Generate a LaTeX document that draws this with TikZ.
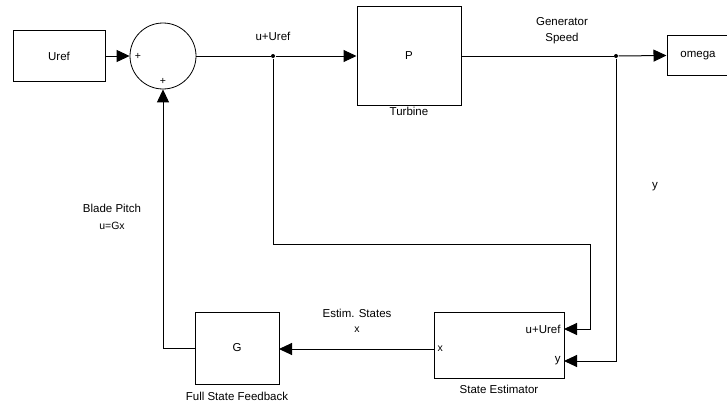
\documentclass[tikz,border=0pt]{standalone}
\usepackage{fontspec}
\setmainfont{Liberation Sans}
\usetikzlibrary{arrows.meta,calc}
\begin{document}
\begin{tikzpicture}[x=1pt,y=-1pt,
  line width=1pt,
  every node/.style={font=\fontsize{11.5}{13}\selectfont},
  blk/.style={draw,rectangle,inner sep=0pt,line width=1pt},
  arr/.style={-{Triangle[length=13pt,width=12pt]}},
  lbl/.style={inner sep=0pt,anchor=center},
  jdot/.style={circle,fill,inner sep=0pt,minimum size=4pt}]
\clip (0,0) rectangle (727,404);
\fill[white] (0,0) rectangle (727,404);
% blocks
\node[blk,minimum width=92pt,minimum height=50pt] (uref) at (59,56) {Uref};
\node[draw,circle,inner sep=0pt,minimum size=66pt,line width=0.8pt] (sum) at (163,56) {};
\node[blk,minimum width=104pt,minimum height=98pt] (P) at (409,56) {P};
\node[blk,minimum width=70pt,minimum height=39pt] (omega) at (702,55.5) {};
\node[lbl] (omegat) at (698,56) {omega};
\node[blk,minimum width=130pt,minimum height=66pt] (est) at (499,345) {};
\node[blk,minimum width=84pt,minimum height=72pt] (G) at (237,348) {G};
% junctions and ports
\node[jdot] (j1) at (273,56) {};
\node[jdot] (j2) at (616,56) {};
\coordinate (estu) at (564,329);
\coordinate (esty) at (564,361);
\coordinate (estx) at (434,349);
\coordinate (Gin) at (279,349);
% connectors
\draw[arr] (uref.east) -- (sum.west);
\draw (sum.east) -- (j1);
\draw[arr] (j1) -- (P.west);
\draw (P.east) -- (j2);
\draw[arr] (j2) -- (omega.west);
\draw[arr] (j1) -- (273,244) -- (590,244) -- (590,329) -- (estu);
\draw[arr] (j2) -- (616,361) -- (esty);
\draw[arr] (estx) -- (Gin);
\draw[arr] (G.west) -| (sum.south);
% labels
\node[lbl] (plus1) at (138,56) {\fontsize{10.5}{11}\selectfont +};
\node[lbl] (plus2) at (163,81) {\fontsize{10.5}{11}\selectfont +};
\node[lbl] (lu) at (273,36) {u+Uref};
\node[lbl] (lgen) at (562,22) {Generator};
\node[lbl] (lspd) at (562,39) {Speed};
\node[lbl] (ltur) at (409,111) {Turbine};
\node[lbl] (ly) at (655,187) {y};
\node[lbl] (lest) at (499,389) {State Estimator};
\node[lbl] (lfsf) at (237,396) {Full State Feedback};
\node[lbl] (les) at (357,313) {Estim. States};
\node[lbl] (lx) at (357,330) {\fontsize{10.5}{11}\selectfont x};
\node[lbl] (lbp) at (112,208) {Blade Pitch};
\node[lbl] (lug) at (112,226) {\fontsize{10.5}{11}\selectfont u=Gx};
\node[lbl,anchor=east] (pu) at (561,329) {u+Uref};
\node[lbl,anchor=east] (py) at (561,361) {y};
\node[lbl,anchor=west] (px) at (437,349) {\fontsize{10.5}{11}\selectfont x};
\end{tikzpicture}
\end{document}
